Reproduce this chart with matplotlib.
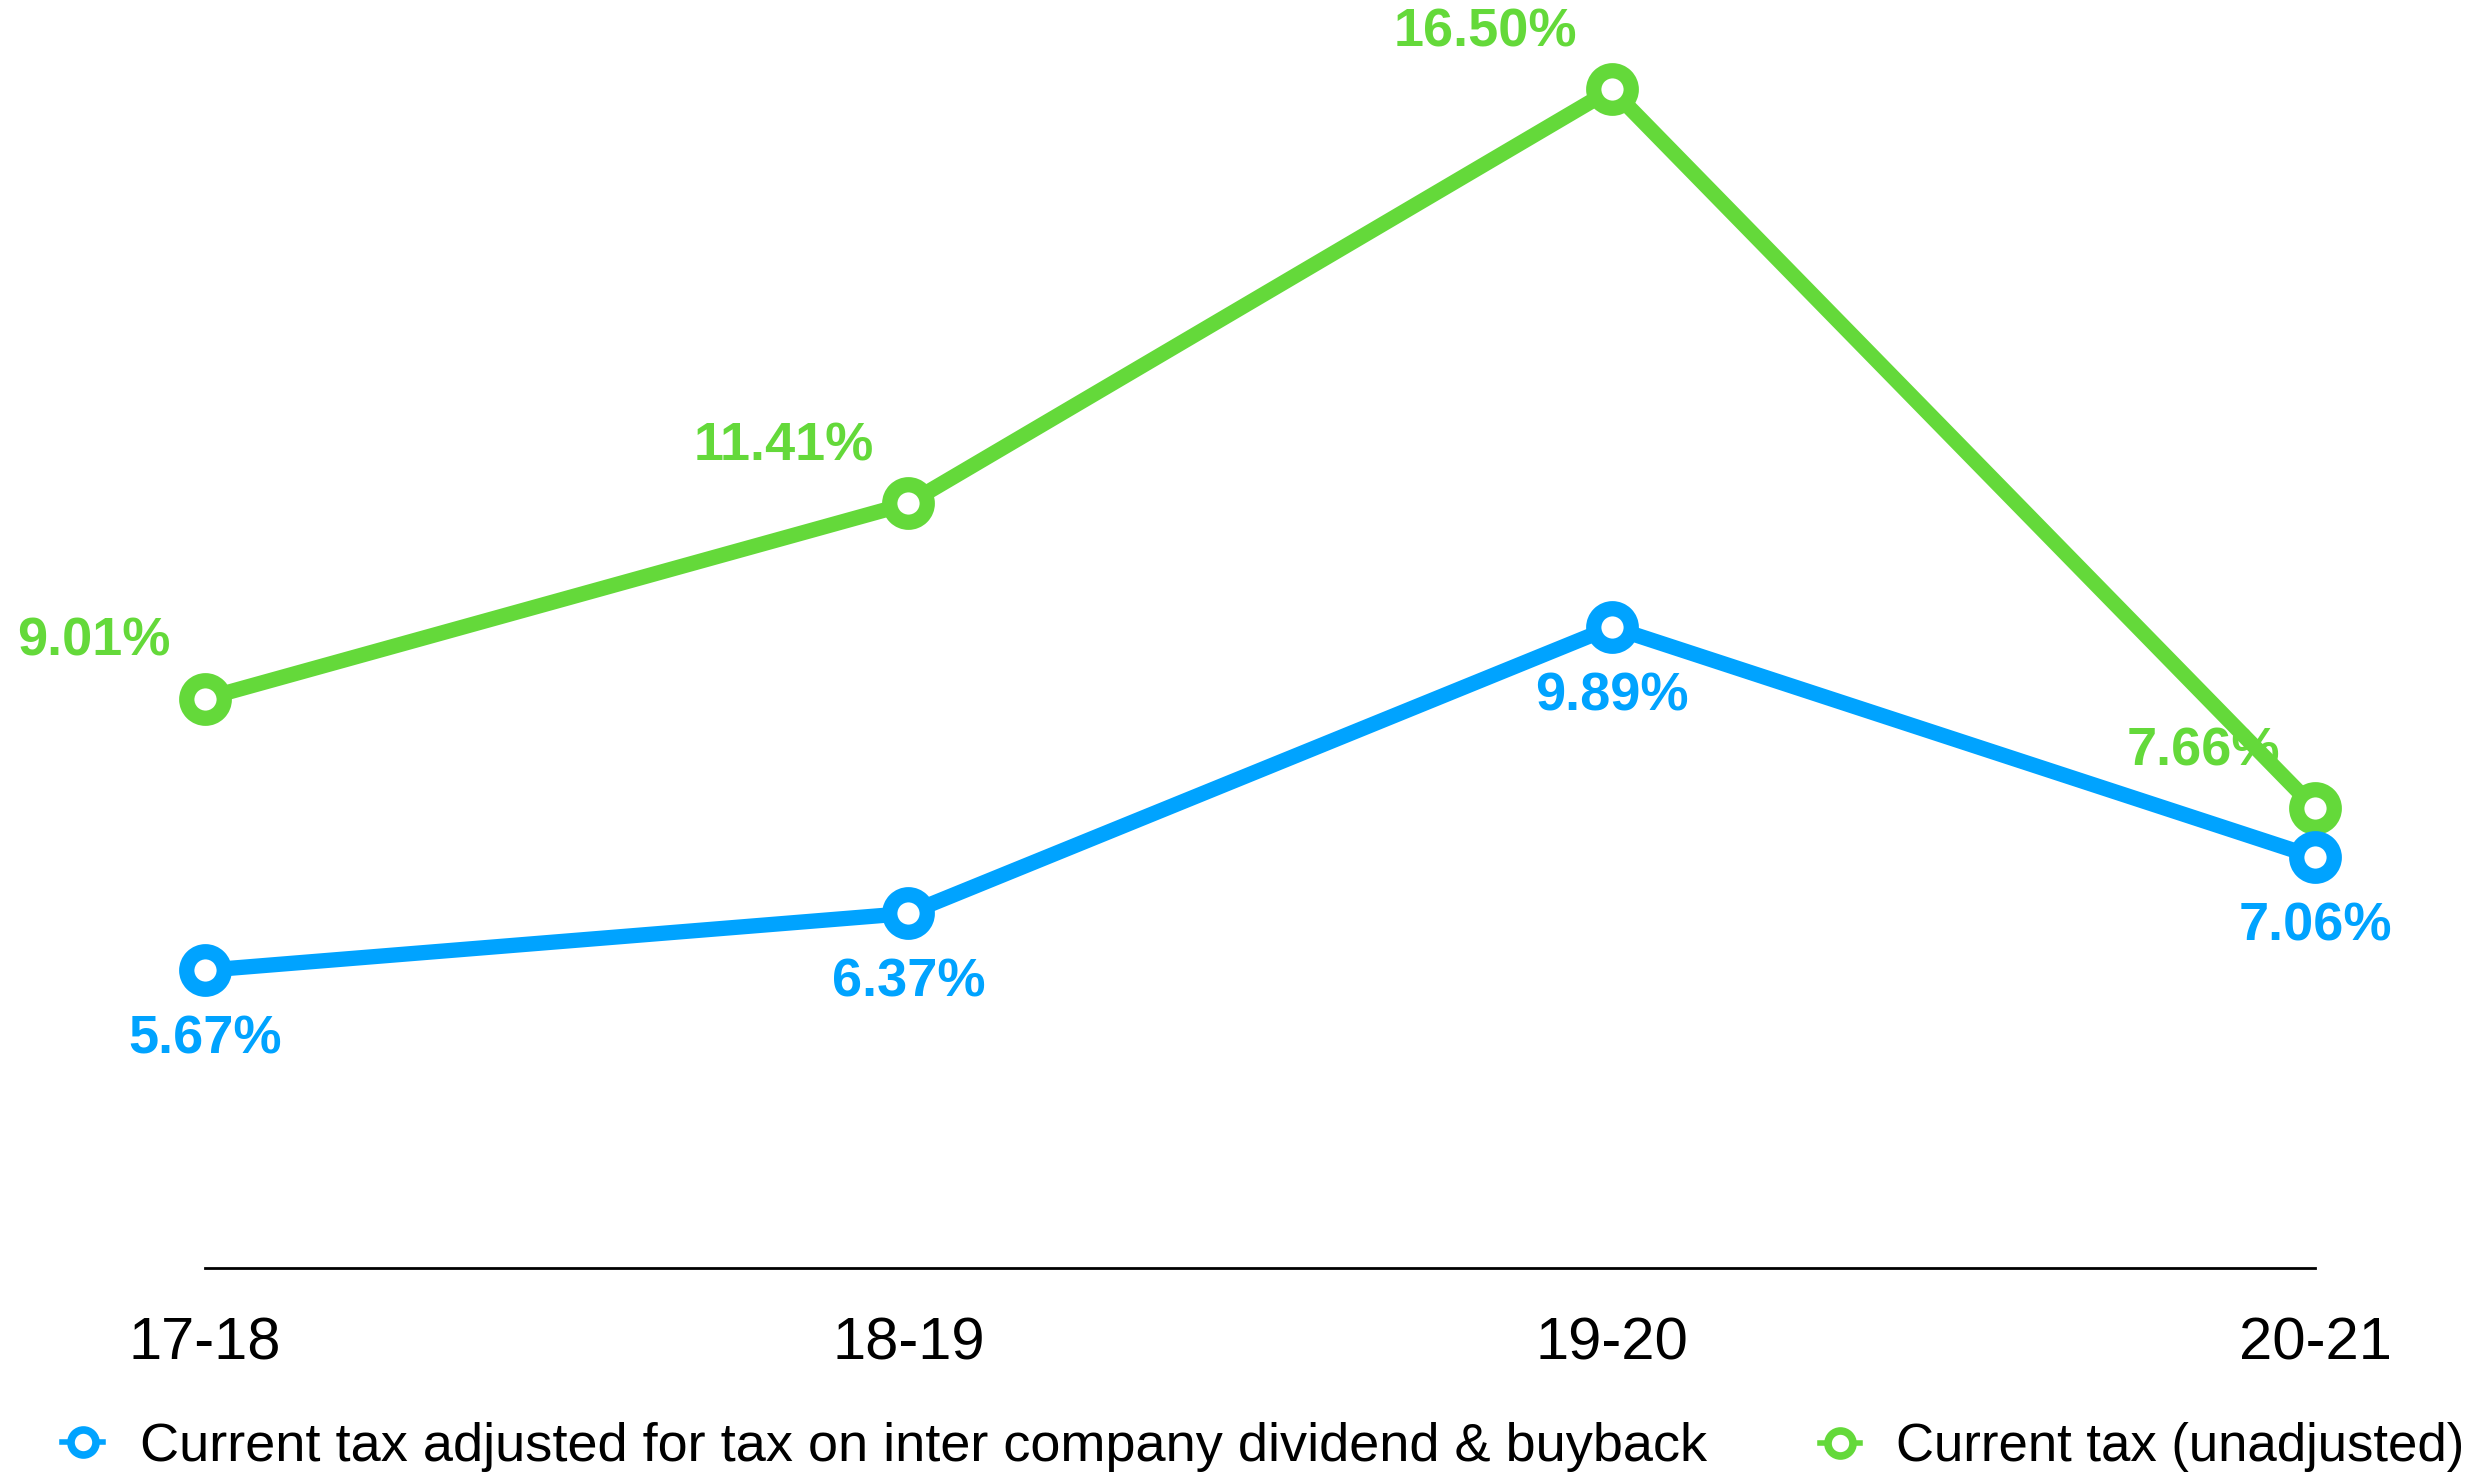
import matplotlib
matplotlib.use('Agg')
import matplotlib.pyplot as plt
from matplotlib.lines import Line2D

years = ['17-18', '18-19', '19-20', '20-21']
adjusted = [5.67, 6.37, 9.89, 7.06]
unadjusted = [9.01, 11.41, 16.50, 7.66]
names = ['Current tax adjusted for tax on inter company dividend & buyback',
         'Current tax (unadjusted)']

blue = '#00A3FF'
green = '#64D93A'

plt.rcParams['font.family'] = ['Liberation Sans', 'DejaVu Sans']

W, H = 2480, 1478
fig = plt.figure(figsize=(W / 100, H / 100), dpi=100)
ax = fig.add_axes([205 / W, 1 - 1268 / H, 2110 / W, 1268 / H])

x = list(range(len(years)))
style = dict(lw=11, marker='o', ms=27, mew=11, mfc='white', clip_on=False)
ax.plot(x, unadjusted, color=green, mec=green, zorder=3, **style)
ax.plot(x, adjusted, color=blue, mec=blue, zorder=4, **style)

for i, v in enumerate(unadjusted):
    ax.annotate(f'{v:.2f}%', (i, v), xytext=(-25, 41), textcoords='offset points',
                ha='right', va='center', fontsize=39, fontweight='bold', color=green)
for i, v in enumerate(adjusted):
    ax.annotate(f'{v:.2f}%', (i, v), xytext=(0, -50), textcoords='offset points',
                ha='center', va='center', fontsize=39, fontweight='bold', color=blue)

ax.set_xlim(0, 3)
ax.set_ylim(2.01, 17.6)
ax.set_xticks(x)
ax.set_xticklabels(years)
ax.set_yticks([])
ax.tick_params(axis='x', length=0, pad=35, labelsize=43)
for s in ['top', 'left', 'right']:
    ax.spines[s].set_visible(False)
ax.spines['bottom'].set_linewidth(2)
ax.spines['bottom'].set_color('black')

h1 = Line2D([], [], color=blue, lw=4, marker='o', ms=18, mew=5.5, mfc='white', mec=blue)
h2 = Line2D([], [], color=green, lw=4, marker='o', ms=18, mew=5.5, mfc='white', mec=green)
leg_kw = dict(loc='center left', frameon=False, borderpad=0, borderaxespad=0,
              handlelength=0.76, handletextpad=0.68)
fig.legend([h1], [names[0]], bbox_to_anchor=(62 / W, 1 - 1447 / H), fontsize=39, **leg_kw)
fig.legend([h2], [names[1]], bbox_to_anchor=(1820 / W, 1 - 1447 / H), fontsize=38, **leg_kw)

fig.savefig('out.png', dpi=100)
